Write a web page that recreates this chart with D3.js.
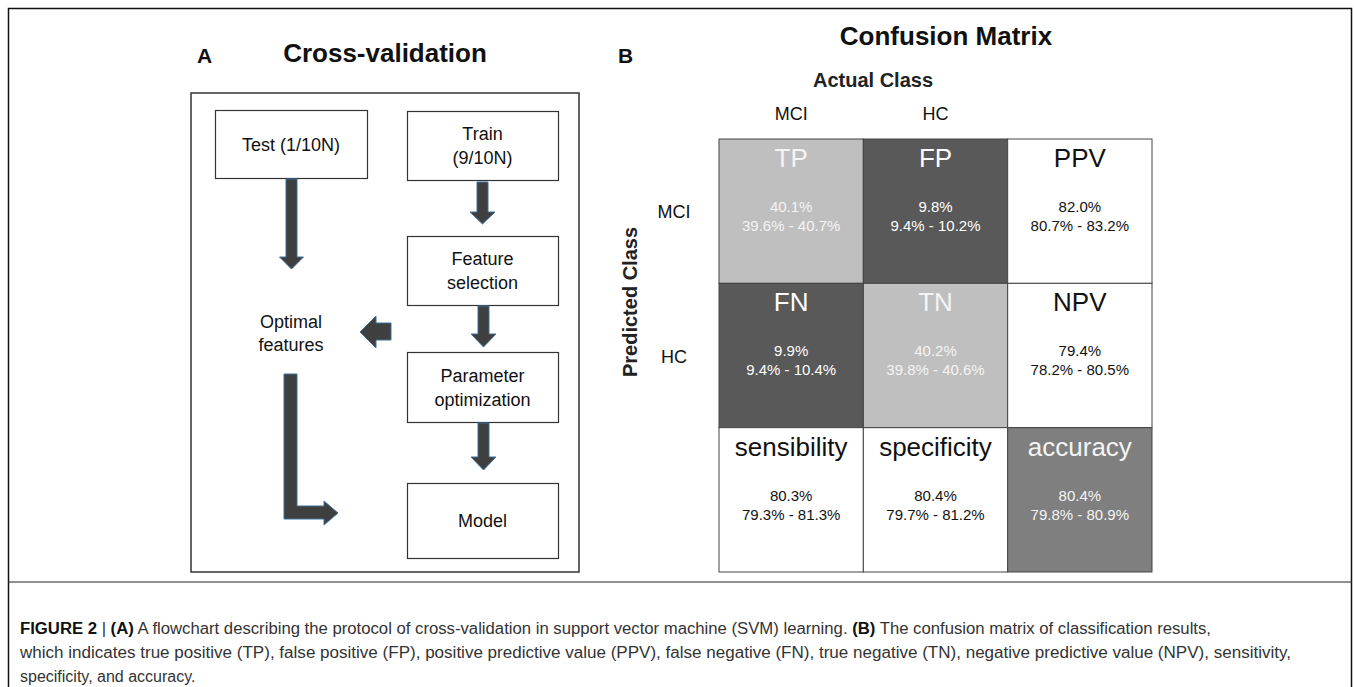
<!DOCTYPE html>
<html><head><meta charset="utf-8">
<script src="https://cdn.jsdelivr.net/npm/d3@7"></script>
<style>body{margin:0;background:#fff} svg{display:block}</style>
</head><body><svg id="c" width="1354" height="687"></svg>
<script>
// ---------- data ----------
const flowSteps = ["Test (1/10N)", "Train|(9/10N)", "Feature|selection", "Parameter|optimization", "Model"];
const outputLabel = ["Optimal", "features"];
const colClasses = ["MCI", "HC"];
const rowClasses = ["MCI", "HC"];
const cellTitles = [["TP", "FP", "PPV"], ["FN", "TN", "NPV"], ["sensibility", "specificity", "accuracy"]];
const cellValues = [[40.1, 9.8, 82.0], [9.9, 40.2, 79.4], [80.3, 80.4, 80.4]];
const cellLower  = [[39.6, 9.4, 80.7], [9.4, 39.8, 78.2], [79.3, 79.7, 79.8]];
const cellUpper  = [[40.7, 10.2, 83.2], [10.4, 40.6, 80.5], [81.3, 81.2, 80.9]];
const cellKinds  = [["correct", "error", "rate"], ["error", "correct", "rate"], ["rate", "rate", "overall"]];
const captionLines = [
  [["FIGURE 2", 1], [" | ", 0], ["(A)", 1], [" A flowchart describing the protocol of cross-validation in support vector machine (SVM) learning. ", 0], ["(B)", 1], [" The confusion matrix of classification results,", 0]],
  [["which indicates true positive (TP), false positive (FP), positive predictive value (PPV), false negative (FN), true negative (TN), negative predictive value (NPV), sensitivity,", 0]],
  [["specificity, and accuracy.", 0]]
];

// ---------- styles ----------
const FONT = "'Liberation Sans', Arial, Helvetica, sans-serif";
const kindFill = {correct: "#bfbfbf", error: "#595959", rate: "#ffffff", overall: "#7f7f7f"};
const kindText = {correct: "#f4f4f4", error: "#ffffff", rate: "#111111", overall: "#f4f4f4"};
const arrowFill = "#3f3f3f", arrowStroke = "#41719c";

const svg = d3.select("#c");

// outer frame + caption separator
svg.append("rect").attr("x", 8.5).attr("y", 8.5).attr("width", 1343).attr("height", 720)
  .attr("fill", "none").attr("stroke", "#111").attr("stroke-width", 1.5);
svg.append("line").attr("x1", 8).attr("x2", 1352).attr("y1", 582).attr("y2", 582)
  .attr("stroke", "#222").attr("stroke-width", 1);

// ---------- Panel A ----------
const gA = svg.append("g");
gA.append("text").attr("x", 197).attr("y", 63).text("A")
  .attr("font-family", FONT).attr("font-weight", "bold").attr("font-size", 21).attr("fill", "#111");
gA.append("text").attr("x", 385).attr("y", 62).attr("text-anchor", "middle").text("Cross-validation")
  .attr("font-family", FONT).attr("font-weight", "bold").attr("font-size", 26).attr("fill", "#111");
gA.append("rect").attr("x", 191).attr("y", 93).attr("width", 388).attr("height", 479)
  .attr("fill", "none").attr("stroke", "#333").attr("stroke-width", 1.5);

const boxLayout = [
  {x: 215, y: 110, w: 152, h: 68},
  {x: 407, y: 111, w: 151, h: 69},
  {x: 407, y: 236, w: 151, h: 69},
  {x: 407, y: 352, w: 151, h: 70},
  {x: 407, y: 483, w: 151, h: 75}
];
flowSteps.forEach((lab, i) => {
  const b = boxLayout[i];
  gA.append("rect").attr("x", b.x + 0.5).attr("y", b.y + 0.5).attr("width", b.w).attr("height", b.h)
    .attr("fill", "#fff").attr("stroke", "#333").attr("stroke-width", 1.2);
  const lines = lab.split("|");
  const cy = b.y + b.h / 2;
  lines.forEach((ln, j) => {
    const off = (j - (lines.length - 1) / 2) * 24;
    gA.append("text").attr("x", b.x + b.w / 2).attr("y", cy + off + 6.5)
      .attr("text-anchor", "middle").text(ln)
      .attr("font-family", FONT).attr("font-size", 18).attr("fill", "#111");
  });
});
outputLabel.forEach((ln, j) => {
  gA.append("text").attr("x", 291).attr("y", 328 + j * 23).attr("text-anchor", "middle").text(ln)
    .attr("font-family", FONT).attr("font-size", 18).attr("fill", "#111");
});

function vArrow(cx, y0, y1, sw, hw, hl) {
  return [[cx - sw / 2, y0], [cx + sw / 2, y0], [cx + sw / 2, y1 - hl], [cx + hw / 2, y1 - hl],
          [cx, y1], [cx - hw / 2, y1 - hl], [cx - sw / 2, y1 - hl]];
}
const line = d3.line().curve(d3.curveLinearClosed);
const arrows = [
  vArrow(291.5, 179, 269, 11, 24, 12),
  vArrow(482.5, 182, 224, 11, 25, 12),
  vArrow(483.5, 306, 347, 11, 25, 13),
  vArrow(483.5, 423, 470, 11, 25, 13),
  [[391, 323], [376, 323], [376, 316], [360, 332], [376, 348], [376, 340], [391, 340]],
  [[284, 374], [297, 374], [297, 506], [324, 506], [324, 501], [338, 513], [324, 525], [324, 519], [284, 519]]
];
gA.selectAll("path.arrow").data(arrows).join("path").attr("class", "arrow")
  .attr("d", line).attr("fill", arrowFill).attr("stroke", arrowStroke).attr("stroke-width", 1);

// ---------- Panel B ----------
const gB = svg.append("g");
gB.append("text").attr("x", 618).attr("y", 63).text("B")
  .attr("font-family", FONT).attr("font-weight", "bold").attr("font-size", 21).attr("fill", "#111");
gB.append("text").attr("x", 946).attr("y", 45).attr("text-anchor", "middle").text("Confusion Matrix")
  .attr("font-family", FONT).attr("font-weight", "bold").attr("font-size", 26).attr("fill", "#111");
gB.append("text").attr("x", 873).attr("y", 87).attr("text-anchor", "middle").text("Actual Class")
  .attr("font-family", FONT).attr("font-weight", "bold").attr("font-size", 20).attr("fill", "#222");

const idx = d3.range(3);
const x = d3.scaleBand().domain(idx).range([719, 1152]);
const y = d3.scaleBand().domain(idx).range([139, 572]);

colClasses.forEach((c, i) => {
  gB.append("text").attr("x", x(i) + x.bandwidth() / 2).attr("y", 120).attr("text-anchor", "middle").text(c)
    .attr("font-family", FONT).attr("font-size", 18).attr("fill", "#111");
});
rowClasses.forEach((r, i) => {
  gB.append("text").attr("x", 674).attr("y", y(i) + y.bandwidth() / 2 + 7).attr("text-anchor", "middle").text(r)
    .attr("font-family", FONT).attr("font-size", 18).attr("fill", "#111");
});
gB.append("text").attr("transform", "translate(637,302) rotate(-90)").attr("text-anchor", "middle")
  .text("Predicted Class").attr("font-family", FONT).attr("font-weight", "bold").attr("font-size", 20).attr("fill", "#222");

const cells = [];
idx.forEach(r => idx.forEach(c => cells.push({r, c, title: cellTitles[r][c], v: cellValues[r][c],
  lo: cellLower[r][c], hi: cellUpper[r][c], kind: cellKinds[r][c]})));
const f1 = d3.format(".1f");
const cg = gB.selectAll("g.cell").data(cells).join("g").attr("class", "cell")
  .attr("transform", d => `translate(${x(d.c)},${y(d.r)})`);
cg.append("rect").attr("width", x.bandwidth()).attr("height", y.bandwidth())
  .attr("fill", d => kindFill[d.kind]).attr("stroke", "#444").attr("stroke-width", 1);
cg.append("text").attr("x", x.bandwidth() / 2).attr("y", 28).attr("text-anchor", "middle")
  .text(d => d.title).attr("font-family", FONT).attr("font-size", 26).attr("fill", d => kindText[d.kind]);
cg.append("text").attr("x", x.bandwidth() / 2).attr("y", 73).attr("text-anchor", "middle")
  .text(d => f1(d.v) + "%").attr("font-family", FONT).attr("font-size", 15).attr("fill", d => kindText[d.kind]);
cg.append("text").attr("x", x.bandwidth() / 2).attr("y", 92).attr("text-anchor", "middle")
  .text(d => `${f1(d.lo)}% - ${f1(d.hi)}%`).attr("font-family", FONT).attr("font-size", 15).attr("fill", d => kindText[d.kind]);

// ---------- caption ----------
const capWidths = [1191, 1271, null];
captionLines.forEach((segs, i) => {
  const t = svg.append("text").attr("x", 20).attr("y", 634 + i * 24)
    .attr("font-family", "'Liberation Sans Narrow', 'Liberation Sans', Arial, sans-serif")
    .attr("font-size", 16).attr("fill", "#333");
  if (capWidths[i]) t.attr("textLength", capWidths[i]).attr("lengthAdjust", "spacingAndGlyphs");
  segs.forEach(s => t.append("tspan").attr("font-weight", s[1] ? "bold" : "normal").attr("fill", s[1] ? "#111" : "#333").text(s[0]));
});
</script></body></html>
